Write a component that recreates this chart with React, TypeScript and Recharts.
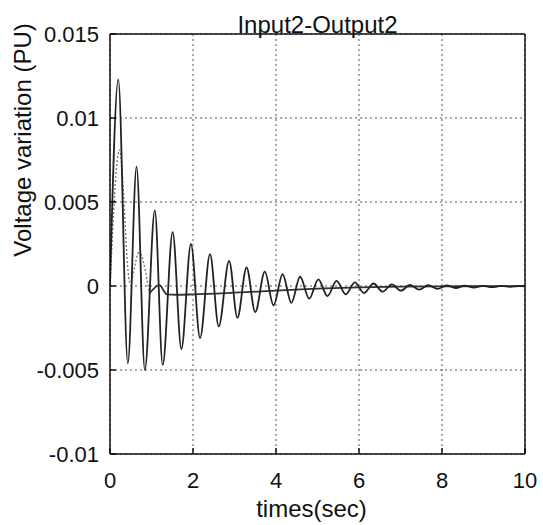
import React from 'react';
import { LineChart, Line, XAxis, YAxis, CartesianGrid, Label } from 'recharts';

const xTicks = [0, 2, 4, 6, 8, 10];
const yTicks = [-0.01, -0.005, 0, 0.005, 0.01, 0.015];

const titleText = 'Input2-Output2';
const xLabelText = 'times(sec)';
const yLabelText = 'Voltage variation (PU)';

// main oscillating response (extrema)
const mainTimes = [0, 0.2, 0.43, 0.64, 0.84, 1.08, 1.27, 1.51, 1.72, 1.95, 2.17, 2.41, 2.62, 2.87, 3.07, 3.29, 3.5, 3.73, 3.94, 4.16, 4.37, 4.58, 4.8, 5.02, 5.24, 5.46, 5.68, 5.9, 6.12, 6.35, 6.57, 6.79, 7.01, 7.23, 7.45, 7.67, 7.89, 8.11, 8.33, 8.55, 8.77, 8.99, 9.21, 9.43, 9.65, 9.87, 10];
const mainValues = [0, 0.0123, -0.0046, 0.0071, -0.005, 0.0045, -0.0047, 0.0032, -0.00375, 0.0025, -0.0031, 0.0019, -0.0024, 0.0015, -0.0019, 0.0011, -0.00155, 0.00085, -0.00115, 0.0007, -0.001, 0.00055, -0.00075, 0.0004, -0.0006, 0.0003, -0.0005, 0.00022, -0.00042, 0.00015, -0.00034, 0.0001, -0.00028, 0.00007, -0.00022, 0.00005, -0.00017, 0.00003, -0.00012, 0.00002, -0.00009, 0.00001, -0.00007, 0.00001, -0.00005, 0, -0.00002];

// damped response, early dotted part
const dottedTimes = [0, 0.23, 0.48, 0.7, 0.95];
const dottedValues = [0, 0.0081, 0.0002, 0.002, -0.00045];

// damped response, settled solid part
const settleTimes = [0.95, 1.19, 1.37, 1.6, 2, 3, 4, 5, 6, 7, 8, 9, 10];
const settleValues = [-0.00045, 0.00005, -0.0005, -0.00052, -0.0005, -0.0004, -0.00028, -0.00016, -0.00008, -0.00004, -0.00002, -0.00001, 0];

const zip = (ts: number[], vs: number[]) => ts.map((t, i) => ({ t, v: vs[i] }));
const mainData = zip(mainTimes, mainValues);
const dottedData = zip(dottedTimes, dottedValues);
const settleData = zip(settleTimes, settleValues);

const FONT = '"Liberation Sans", Arial, Helvetica, sans-serif';

const YLabel = (props: any) => {
  const vb = props.viewBox || { x: 0, y: 34, width: 110, height: 420 };
  const cx = vb.x + 22.5;
  const cy = vb.y + 106;
  return (
    <text
      x={cx}
      y={cy}
      transform={`rotate(-90, ${cx}, ${cy})`}
      textAnchor="middle"
      dominantBaseline="central"
      fontFamily={FONT}
      fontSize={24}
      fill="#111"
    >
      {yLabelText}
    </text>
  );
};

export default function App() {
  return (
    <div style={{ position: 'absolute', left: 0, top: 0, width: 543, height: 525, background: '#fff' }}>
      <LineChart
        width={543}
        height={525}
        margin={{ top: 33, right: 17, bottom: 0, left: 0 }}
        style={{ fontFamily: FONT }}
      >
        <CartesianGrid stroke="#555" strokeDasharray="2 3" strokeWidth={1} />
        <XAxis
          dataKey="t"
          type="number"
          domain={[0, 10]}
          ticks={xTicks}
          allowDataOverflow
          height={71}
          tickSize={-6}
          tickMargin={24}
          stroke="#111"
          strokeWidth={1.5}
          tick={{ fill: '#111', fontSize: 22, fontFamily: FONT }}
        >
          <Label value={xLabelText} position="insideBottom" offset={8} dx={-6} fill="#111" fontSize={24} fontFamily={FONT} />
        </XAxis>
        <XAxis
          xAxisId="top"
          orientation="top"
          dataKey="t"
          type="number"
          domain={[0, 10]}
          ticks={xTicks}
          allowDataOverflow
          height={1}
          tickSize={-6}
          tick={false}
          stroke="#111"
          strokeWidth={1.5}
        >
          <Label value={titleText} position="top" offset={0} fill="#111" fontSize={24} fontFamily={FONT} />
        </XAxis>
        <YAxis
          type="number"
          domain={[-0.01, 0.015]}
          ticks={yTicks}
          allowDataOverflow
          width={110}
          tickSize={-6}
          tickMargin={17}
          stroke="#111"
          strokeWidth={1.5}
          tick={{ fill: '#111', fontSize: 22, fontFamily: FONT }}
        >
          <Label content={<YLabel />} />
        </YAxis>
        <YAxis
          yAxisId="right"
          orientation="right"
          type="number"
          domain={[-0.01, 0.015]}
          ticks={yTicks}
          allowDataOverflow
          width={1}
          tickSize={-6}
          tick={false}
          stroke="#111"
          strokeWidth={1.5}
        />
        <Line
          data={dottedData}
          xAxisId="top"
          yAxisId="right"
          dataKey="v"
          type="monotone"
          stroke="#777"
          strokeWidth={1.4}
          strokeDasharray="2 2"
          dot={false}
          isAnimationActive={false}
        />
        <Line
          data={settleData}
          dataKey="v"
          type="monotone"
          stroke="#333"
          strokeWidth={1.8}
          dot={false}
          isAnimationActive={false}
        />
        <Line
          data={mainData}
          dataKey="v"
          type="monotone"
          stroke="#222"
          strokeWidth={1.8}
          dot={false}
          isAnimationActive={false}
        />
      </LineChart>
    </div>
  );
}
